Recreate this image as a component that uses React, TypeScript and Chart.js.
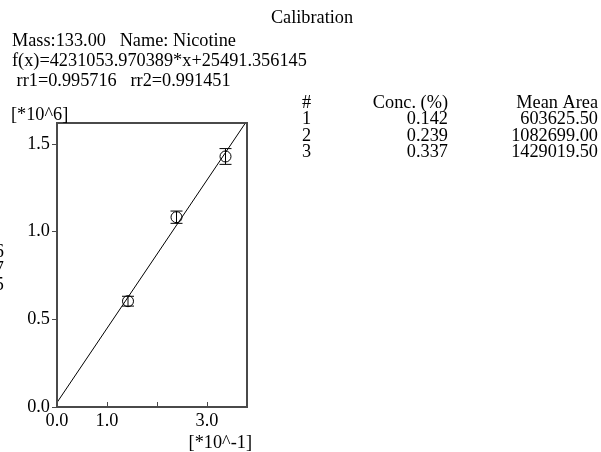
import React, { useEffect, useRef } from "react";
import { Chart, registerables } from "chart.js";

Chart.register(...registerables);

// ---- data ----
const concX = [1.42, 2.39, 3.37]; // [*10^-1]
const meanArea = [0.6036255, 1.082699, 1.4290195]; // [*10^6]
const errHalf = [0.028, 0.035, 0.045]; // [*10^6]
const fitX = [0, 3.8];
const fitY = [0.0254914, 1.6332919];

const xTickValues = [0, 1, 2, 3];
const xTickLabels = ["0.0", "1.0", "", "3.0"];
const yTickValues = [0, 0.5, 1.0, 1.5];
const yTickLabels = ["0.0", "0.5", "1.0", "1.5"];

const tableHeader = ["#", "Conc. (%)", "Mean Area"];
const tableIdx = ["1", "2", "3"];
const tableConc = ["0.142", "0.239", "0.337"];
const tableArea = ["603625.50", "1082699.00", "1429019.50"];

const titleText = "Calibration";
const infoLines = [
  "Mass:133.00   Name: Nicotine",
  "f(x)=4231053.970389*x+25491.356145",
  " rr1=0.995716   rr2=0.991451",
];
const clippedLeft = ["6", "7", "5"];

const FONT = '18.3px "Liberation Serif", "Times New Roman", serif';

export default function App() {
  const ref = useRef<HTMLCanvasElement | null>(null);

  useEffect(() => {
    if (!ref.current) return;

    const overlay = {
      id: "overlay",
      afterDatasetsDraw(chart: any) {
        const ctx = chart.ctx;
        const xs = chart.scales.x;
        const ys = chart.scales.y;
        const area = chart.chartArea;
        ctx.save();
        // error bars
        ctx.strokeStyle = "#000";
        ctx.lineWidth = 1;
        for (let i = 0; i < concX.length; i++) {
          const px = xs.getPixelForValue(concX[i]);
          const top = ys.getPixelForValue(meanArea[i] + errHalf[i]);
          const bot = ys.getPixelForValue(meanArea[i] - errHalf[i]);
          ctx.beginPath();
          ctx.moveTo(px, top);
          ctx.lineTo(px, bot);
          ctx.moveTo(px - 6, top);
          ctx.lineTo(px + 6, top);
          ctx.moveTo(px - 6, bot);
          ctx.lineTo(px + 6, bot);
          ctx.stroke();
        }
        // box
        ctx.strokeStyle = "#4a4a4a";
        ctx.lineWidth = 2;
        ctx.strokeRect(area.left, area.top, area.right - area.left, area.bottom - area.top);
        // inside x ticks
        ctx.lineWidth = 1;
        ctx.beginPath();
        for (const v of xTickValues) {
          if (v === 0) continue;
          const px = Math.round(xs.getPixelForValue(v)) + 0.5;
          ctx.moveTo(px, area.bottom);
          ctx.lineTo(px, area.bottom - 5);
        }
        ctx.stroke();
        ctx.restore();
      },
      afterDraw(chart: any) {
        const ctx = chart.ctx;
        const area = chart.chartArea;
        ctx.save();
        ctx.font = FONT;
        ctx.fillStyle = "#000";
        ctx.textBaseline = "alphabetic";
        ctx.textAlign = "center";
        ctx.fillText(titleText, 312, 23);
        ctx.textAlign = "left";
        infoLines.forEach((t, i) => ctx.fillText(t, 12, 46 + i * 20));
        // axis units
        ctx.fillText("[*10^6]", 11, 120);
        ctx.textAlign = "right";
        ctx.fillText("[*10^-1]", area.right + 5, 448);
        // clipped left labels
        clippedLeft.forEach((t, i) => ctx.fillText(t, 4, 257 + i * 16.5));
        // table
        const rows = [tableHeader, ...tableIdx.map((n, i) => [n, tableConc[i], tableArea[i]])];
        rows.forEach((r, i) => {
          const y = 108 + i * 16.3;
          ctx.textAlign = "left";
          ctx.fillText(r[0], 302, y);
          ctx.textAlign = "right";
          ctx.fillText(r[1], 448, y);
          ctx.fillText(r[2], 598, y);
        });
        ctx.restore();
      },
    };

    const chart = new Chart(ref.current, {
      type: "scatter",
      data: {
        datasets: [
          {
            label: "fit",
            data: fitX.map((x, i) => ({ x, y: fitY[i] })),
            showLine: true,
            borderColor: "#000",
            borderWidth: 1,
            pointRadius: 0,
            clip: 0,
          } as any,
          {
            label: "points",
            data: concX.map((x, i) => ({ x, y: meanArea[i] })),
            showLine: false,
            pointStyle: "circle",
            pointRadius: 5.5,
            borderColor: "#000",
            borderWidth: 1,
            backgroundColor: "rgba(0,0,0,0)",
          },
        ],
      },
      options: {
        animation: false,
        responsive: false,
        maintainAspectRatio: false,
        layout: { padding: { left: 0, top: 123, right: 354, bottom: 0 } },
        plugins: { legend: { display: false }, tooltip: { enabled: false }, title: { display: false } },
        scales: {
          x: {
            type: "linear",
            min: 0,
            max: 3.8,
            afterBuildTicks: (s: any) => {
              s.ticks = xTickValues.map((v) => ({ value: v }));
            },
            afterFit: (s: any) => {
              s.height = 45;
            },
            ticks: {
              autoSkip: false,
              maxRotation: 0,
              padding: 3,
              color: "#000",
              font: { family: '"Liberation Serif"', size: 18.3 },
              callback: (_v: any, i: number) => xTickLabels[i],
            },
            grid: { drawOnChartArea: false, drawTicks: false, display: true },
            border: { display: false },
          },
          y: {
            type: "linear",
            min: 0,
            max: 1.62,
            afterBuildTicks: (s: any) => {
              s.ticks = yTickValues.map((v) => ({ value: v }));
            },
            afterFit: (s: any) => {
              s.width = 57;
            },
            ticks: {
              autoSkip: false,
              padding: 2,
              color: "#000",
              font: { family: '"Liberation Serif"', size: 18.3 },
              callback: (_v: any, i: number) => yTickLabels[i],
            },
            grid: { drawOnChartArea: false, drawTicks: true, tickLength: 5, color: "#4a4a4a", lineWidth: 1 },
            border: { display: false },
          },
        },
      },
      plugins: [overlay],
    });
    return () => chart.destroy();
  }, []);

  return (
    <div style={{ position: "fixed", left: 0, top: 0, width: 601, height: 452, background: "#fff" }}>
      <canvas ref={ref} width={601} height={452} style={{ width: 601, height: 452, display: "block" }} />
    </div>
  );
}
